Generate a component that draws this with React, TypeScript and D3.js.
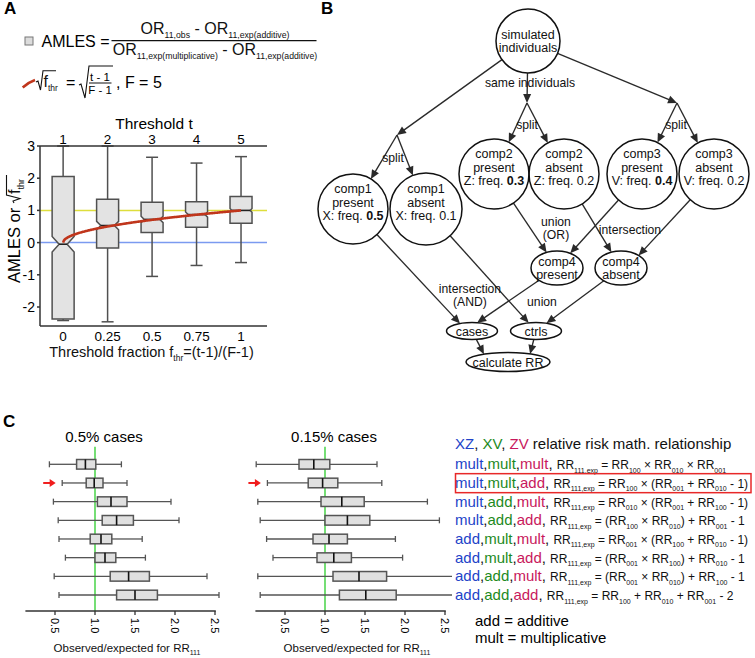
import React from 'react';
import * as d3 from 'd3';

const W = 755;
const H = 658;
const FONT = "'Liberation Sans', Arial, Helvetica, sans-serif";

// ---------- panel A data
const thresholds = [1, 2, 3, 4, 5];
const thresholdFractions = [0, 0.25, 0.5, 0.75, 1];
const amlesWhiskerLow = [-2.42, -2.46, -1.05, -0.71, -0.62];
const amlesQ1 = [-2.37, -0.17, 0.31, 0.48, 0.6];
const amlesMedian = [-0.05, 0.53, 0.72, 0.87, 1.0];
const amlesQ3 = [2.05, 1.35, 1.25, 1.27, 1.43];
const amlesWhiskerHigh = [3.0, 3.0, 2.65, 2.47, 2.67];
const amlesNotch = [0.24, 0.13, 0.1, 0.08, 0.06];
const amlesTicks = [-2, -1, 0, 1, 2, 3];
const fractionLabels = ['0', '0.25', '0.5', '0.75', '1'];

// ---------- panel C data
const relationships = [
  ['mult', 'mult', 'mult'],
  ['mult', 'mult', 'add'],
  ['mult', 'add', 'mult'],
  ['mult', 'add', 'add'],
  ['add', 'mult', 'mult'],
  ['add', 'mult', 'add'],
  ['add', 'add', 'mult'],
  ['add', 'add', 'add'],
];
const formulas = [
  'RR_{111,exp} = RR_{100} × RR_{010} × RR_{001}',
  'RR_{111,exp} = RR_{100} × (RR_{001} + RR_{010} - 1)',
  'RR_{111,exp} = RR_{010} × (RR_{001} + RR_{100} - 1)',
  'RR_{111,exp} = (RR_{100} × RR_{010}) + RR_{001} - 1',
  'RR_{111,exp} = RR_{001} × (RR_{100} + RR_{010} - 1)',
  'RR_{111,exp} = (RR_{001} × RR_{100}) + RR_{010} - 1',
  'RR_{111,exp} = (RR_{001} × RR_{010}) + RR_{100} - 1',
  'RR_{111,exp} = RR_{100} + RR_{010} + RR_{001} - 2',
];
const highlightedRow = 1;

const rr05Low = [0.43, 0.59, 0.48, 0.54, 0.55, 0.63, 0.49, 0.55];
const rr05Q1 = [0.77, 0.89, 1.03, 1.09, 0.94, 1.0, 1.19, 1.27];
const rr05Median = [0.88, 0.99, 1.2, 1.27, 1.075, 1.125, 1.42, 1.5];
const rr05Q3 = [1.01, 1.1, 1.4, 1.48, 1.21, 1.26, 1.68, 1.78];
const rr05High = [1.33, 1.4, 1.95, 2.05, 1.59, 1.63, 2.4, 2.55];

const rr015Low = [0.14, 0.28, 0.16, 0.19, 0.27, 0.35, 0.16, 0.19];
const rr015Q1 = [0.675, 0.79, 0.95, 1.0, 0.85, 0.9, 1.1, 1.18];
const rr015Median = [0.86, 0.97, 1.21, 1.28, 1.05, 1.11, 1.425, 1.51];
const rr015Q3 = [1.06, 1.16, 1.49, 1.56, 1.28, 1.33, 1.77, 1.89];
const rr015High = [1.65, 1.71, 2.28, 2.43, 1.88, 1.97, 2.7, 2.7];

const rrTicks = [0.5, 1.0, 1.5, 2.0, 2.5];

// ---------- panel B (flow diagram) text
const flowText: Record<string, string[]> = {
  root: ['simulated', 'individuals'],
  c1p: ['comp1', 'present', 'X: freq. **0.5**'],
  c1a: ['comp1', 'absent', 'X: freq. 0.1'],
  c2p: ['comp2', 'present', 'Z: freq. **0.3**'],
  c2a: ['comp2', 'absent', 'Z: freq. 0.2'],
  c3p: ['comp3', 'present', 'V: freq. **0.4**'],
  c3a: ['comp3', 'absent', 'V: freq. 0.2'],
  c4p: ['comp4', 'present'],
  c4a: ['comp4', 'absent'],
  cases: ['cases'],
  ctrls: ['ctrls'],
  rr: ['calculate RR'],
};
const flowEdges: [string, string][] = [
  ['root', 'splitL'], ['root', 'splitM'], ['root', 'splitR'],
  ['splitL', 'c1p'], ['splitL', 'c1a'],
  ['splitM', 'c2p'], ['splitM', 'c2a'],
  ['splitR', 'c3p'], ['splitR', 'c3a'],
  ['c2p', 'c4p'], ['c3p', 'c4p'], ['c2a', 'c4a'], ['c3a', 'c4a'],
  ['c1p', 'cases'], ['c4p', 'cases'], ['c1a', 'ctrls'], ['c4a', 'ctrls'],
  ['cases', 'rr'], ['ctrls', 'rr'],
];
const flowEdgeLabels = [
  { at: [530, 82], lines: ['same individuals'] },
  { at: [393, 157], lines: ['split'] },
  { at: [527, 124], lines: ['split'] },
  { at: [676, 124], lines: ['split'] },
  { at: [556, 228], lines: ['union', '(OR)'] },
  { at: [630, 229], lines: ['intersection'] },
  { at: [470, 295], lines: ['intersection', '(AND)'] },
  { at: [542, 301], lines: ['union'] },
];

// layout of the diagram
type FNode = { id: string; kind: 'circle' | 'ellipse' | 'point'; x: number; y: number; rx: number; ry: number; textDy: number };
const flowLayout: FNode[] = [
  { id: 'root', kind: 'circle', x: 528, y: 41, rx: 32, ry: 32, textDy: 0 },
  { id: 'splitL', kind: 'point', x: 397, y: 135, rx: 0, ry: 0, textDy: 0 },
  { id: 'splitM', kind: 'point', x: 527, y: 103, rx: 0, ry: 0, textDy: 0 },
  { id: 'splitR', kind: 'point', x: 677, y: 103, rx: 0, ry: 0, textDy: 0 },
  { id: 'c2p', kind: 'circle', x: 494, y: 174, rx: 35, ry: 35, textDy: -7 },
  { id: 'c2a', kind: 'circle', x: 564, y: 174, rx: 35, ry: 35, textDy: -7 },
  { id: 'c3p', kind: 'circle', x: 642, y: 174, rx: 35, ry: 35, textDy: -7 },
  { id: 'c3a', kind: 'circle', x: 714, y: 174, rx: 35, ry: 35, textDy: -7 },
  { id: 'c1p', kind: 'circle', x: 353, y: 209, rx: 35, ry: 35, textDy: -7 },
  { id: 'c1a', kind: 'circle', x: 426, y: 209, rx: 36, ry: 36, textDy: -7 },
  { id: 'c4p', kind: 'ellipse', x: 557, y: 268, rx: 26, ry: 17, textDy: 0 },
  { id: 'c4a', kind: 'ellipse', x: 621, y: 268, rx: 26, ry: 17, textDy: 0 },
  { id: 'cases', kind: 'ellipse', x: 472, y: 331, rx: 25.5, ry: 8.5, textDy: 0 },
  { id: 'ctrls', kind: 'ellipse', x: 536, y: 331, rx: 25.5, ry: 8.5, textDy: 0 },
  { id: 'rr', kind: 'ellipse', x: 508, y: 362, rx: 42, ry: 9.5, textDy: 0 },
];
const edgeAim: Record<string, [number, number]> = {
  'cases>rr': [-20, 0],
  'ctrls>rr': [20, 0],
  'c1p>cases': [-5, 0],
  'c4p>cases': [-7, 0],
  'c3a>c4a': [6, 0],
};

// ---------- helpers
type Seg = { t: string; sub?: boolean; bold?: boolean; fill?: string; size?: number };

function parseRich(s: string, extra: Partial<Seg> = {}): Seg[] {
  return s
    .split(/(_\{[^}]*\}|\*\*[^*]*\*\*)/)
    .filter((p) => p.length)
    .map((p) => {
      if (p.startsWith('_{')) return { ...extra, t: p.slice(2, -1), sub: true };
      if (p.startsWith('**')) return { ...extra, t: p.slice(2, -2), bold: true };
      return { ...extra, t: p };
    });
}

function Rich(props: {
  x: number; y: number; segs: Seg[]; size: number; subSize: number; subShift: number;
  anchor?: string; fill?: string; transform?: string;
}) {
  const { x, y, segs, size, subSize, subShift, anchor = 'start', fill = '#111', transform } = props;
  let cur = 0;
  return (
    <text x={x} y={y} fontSize={size} textAnchor={anchor} fill={fill} transform={transform} style={{ whiteSpace: 'pre' }}>
      {segs.map((s, i) => {
        const target = s.sub ? subShift : 0;
        const dy = target - cur;
        cur = target;
        return (
          <tspan
            key={i}
            dy={dy !== 0 ? dy : undefined}
            fontSize={s.sub ? subSize : s.size}
            fontWeight={s.bold ? 'bold' : undefined}
            fill={s.fill}
          >
            {s.t}
          </tspan>
        );
      })}
    </text>
  );
}

function insideNode(n: FNode, p: number[]) {
  if (n.kind === 'point') return false;
  const dx = (p[0] - n.x) / n.rx;
  const dy = (p[1] - n.y) / n.ry;
  return dx * dx + dy * dy < 1;
}

function edgeGeom(a: FNode, b: FNode, aim: [number, number]) {
  const p0 = [a.x, a.y];
  const p1 = [b.x + aim[0], b.y + aim[1]];
  const at = (t: number) => [p0[0] + (p1[0] - p0[0]) * t, p0[1] + (p1[1] - p0[1]) * t];
  let t0 = 0;
  if (a.kind !== 'point') {
    let lo = 0, hi = 1;
    for (let k = 0; k < 40; k++) {
      const m = (lo + hi) / 2;
      if (insideNode(a, at(m))) lo = m; else hi = m;
    }
    t0 = hi;
  }
  let t1 = 1;
  if (b.kind !== 'point') {
    let lo = 0, hi = 1;
    for (let k = 0; k < 40; k++) {
      const m = (lo + hi) / 2;
      if (insideNode(b, at(m))) hi = m; else lo = m;
    }
    t1 = lo;
  }
  return [at(t0), at(t1)];
}

function Arrow({ s, e, color = '#2a2a2a', len = 9, half = 4, width = 1.35 }: { s: number[]; e: number[]; color?: string; len?: number; half?: number; width?: number }) {
  const dx = e[0] - s[0], dy = e[1] - s[1];
  const d = Math.hypot(dx, dy);
  const ux = dx / d, uy = dy / d;
  const bx = e[0] - ux * len, by = e[1] - uy * len;
  const pts = [
    [e[0], e[1]],
    [bx - uy * half, by + ux * half],
    [bx + uy * half, by - ux * half],
  ];
  return (
    <g>
      <line x1={s[0]} y1={s[1]} x2={bx + ux} y2={by + uy} stroke={color} strokeWidth={width} />
      <polygon points={pts.map((p) => p.join(',')).join(' ')} fill={color} />
    </g>
  );
}

// ---------- panel A
function PanelA() {
  const xA = d3.scaleLinear().domain([-0.13, 1.146]).range([40, 267]);
  const yA = d3.scaleLinear().domain([-2.59, 3]).range([326, 146]);
  const boxHalf = 11;
  const capHalf = 6;
  const [x0, x1] = xA.range();
  const [yBot, yTop] = yA.range();

  const notchPath = (i: number) => {
    const cx = xA(thresholdFractions[i]);
    const top = yA(amlesQ3[i]);
    const bot = yA(amlesQ1[i]);
    const m = yA(amlesMedian[i]);
    const nHi = yA(amlesMedian[i] + amlesNotch[i]);
    const nLo = yA(amlesMedian[i] - amlesNotch[i]);
    const nw = boxHalf - Math.min(7, (nLo - nHi) / 2);
    const w = boxHalf;
    return `M${cx - w},${top}H${cx + w}V${nHi}L${cx + nw},${m}L${cx + w},${nLo}V${bot}H${cx - w}V${nLo}L${cx - nw},${m}L${cx - w},${nHi}Z`;
  };

  // analytic curve sqrt(f_thr) shown in the legend
  const curve = d3.line()(d3.range(0, 1.0001, 0.004).map((f) => [xA(f), yA(Math.sqrt(f))] as [number, number]));
  const red = '#c0361c';

  return (
    <g>
      <text x={4} y={14} fontSize={17} fontWeight="bold">A</text>

      {/* legend */}
      <rect x={25} y={37} width={8} height={8} fill="#dcdcdc" stroke="#777" strokeWidth={1} />
      <text x={41.5} y={46.5} fontSize={16}>AMLES =</text>
      <Rich x={215} y={33.5} anchor="middle" size={16} subSize={8.7} subShift={4}
        segs={parseRich('OR_{11,obs} - OR_{11,exp(additive)}')} />
      <line x1={111.5} x2={316.5} y1={40.7} y2={40.7} stroke="#111" strokeWidth={1.2} />
      <Rich x={215} y={55} anchor="middle" size={16} subSize={8.7} subShift={4}
        segs={parseRich('OR_{11,exp(multiplicative)} - OR_{11,exp(additive)}')} />

      <path d="M22.7,87.5 Q28,82.5 35,80" fill="none" stroke={red} strokeWidth={2.5} />
      <path d="M36,82 L38,81 L40.5,90 L43,70.7 L56,70.7" fill="none" stroke="#111" strokeWidth={1.1} />
      <Rich x={43.5} y={87} size={16} subSize={8.5} subShift={3.5} segs={parseRich('f_{thr}')} />
      <text x={66} y={87.5} fontSize={16}>=</text>
      <path d="M79,85 L81,84 L85,98 L89,66 L113,66" fill="none" stroke="#111" strokeWidth={1.1} />
      <text x={100} y={80.5} fontSize={11.5} textAnchor="middle" style={{ whiteSpace: 'pre' }}>t - 1</text>
      <line x1={89} x2={111.5} y1={83} y2={83} stroke="#111" strokeWidth={1} />
      <text x={100} y={94} fontSize={11.5} textAnchor="middle" style={{ whiteSpace: 'pre' }}>F - 1</text>
      <text x={116} y={87.5} fontSize={16} style={{ whiteSpace: 'pre' }}>, F = 5</text>

      {/* reference lines */}
      <line x1={x0} x2={x1} y1={yA(1)} y2={yA(1)} stroke="#dede3c" strokeWidth={1.5} />
      <line x1={x0} x2={x1} y1={yA(0)} y2={yA(0)} stroke="#7b9af0" strokeWidth={1.5} />

      {/* boxes */}
      {thresholdFractions.map((f, i) => {
        const cx = xA(f);
        return (
          <g key={i} stroke="#505050" strokeWidth={1.5}>
            <line x1={cx} x2={cx} y1={yA(amlesWhiskerHigh[i])} y2={yA(amlesQ3[i])} />
            <line x1={cx} x2={cx} y1={yA(amlesQ1[i])} y2={yA(amlesWhiskerLow[i])} />
            <line x1={cx - capHalf} x2={cx + capHalf} y1={yA(amlesWhiskerHigh[i])} y2={yA(amlesWhiskerHigh[i])} />
            <line x1={cx - capHalf} x2={cx + capHalf} y1={yA(amlesWhiskerLow[i])} y2={yA(amlesWhiskerLow[i])} />
            <path d={notchPath(i)} fill="#e3e3e3" />
          </g>
        );
      })}
      {thresholdFractions.map((f, i) => {
        const cx = xA(f);
        const nHi = yA(amlesMedian[i] + amlesNotch[i]);
        const nLo = yA(amlesMedian[i] - amlesNotch[i]);
        const nw = boxHalf - Math.min(7, (nLo - nHi) / 2);
        return <line key={i} x1={cx - nw} x2={cx + nw} y1={yA(amlesMedian[i])} y2={yA(amlesMedian[i])} stroke="#222" strokeWidth={1.6} />;
      })}

      <path d={curve || ''} fill="none" stroke={red} strokeWidth={2.6} />

      {/* axes */}
      <g stroke="#333" strokeWidth={1.5} fill="none">
        <line x1={x0} x2={x0} y1={yTop} y2={yBot} />
        <line x1={x0} x2={x1} y1={yTop} y2={yTop} />
        <line x1={x0} x2={x1} y1={yBot} y2={yBot} />
        {amlesTicks.map((t) => (
          <line key={t} x1={x0 - 3} x2={x0} y1={yA(t)} y2={yA(t)} />
        ))}
      </g>
      {amlesTicks.map((t) => (
        <text key={t} x={35} y={yA(t) + 5} fontSize={14} textAnchor="end">{t}</text>
      ))}
      {thresholds.map((t, i) => (
        <text key={t} x={xA(thresholdFractions[i])} y={143.5} fontSize={13.5} textAnchor="middle">{t}</text>
      ))}
      <text x={154} y={128.5} fontSize={15.5} textAnchor="middle">Threshold t</text>
      {fractionLabels.map((l, i) => (
        <text key={l} x={xA(thresholdFractions[i])} y={340.5} fontSize={13.5} textAnchor="middle">{l}</text>
      ))}
      <Rich x={151.5} y={356.5} anchor="middle" size={14.5} subSize={8.5} subShift={4}
        segs={parseRich('Threshold fraction f_{thr}=(t-1)/(F-1)')} />

      {/* y label */}
      <g transform="translate(20,283) rotate(-90)">
        <text x={0} y={0} fontSize={16.5} style={{ whiteSpace: 'pre' }}>AMLES or </text>
        <path d="M80,-6 L82,-7 L84.5,0 L88,-13.5 L108,-13.5" fill="none" stroke="#111" strokeWidth={1.1} />
        <Rich x={89} y={0} size={16.5} subSize={9} subShift={3.5} segs={parseRich('f_{thr}')} />
      </g>
    </g>
  );
}

// ---------- panel B
function PanelB() {
  const byId = new Map(flowLayout.map((n) => [n.id, n]));
  const fs = 12.5;
  const lh = 13.4;
  return (
    <g>
      <text x={321} y={14} fontSize={17} fontWeight="bold">B</text>
      {flowEdges.map(([a, b]) => {
        const [s, e] = edgeGeom(byId.get(a)!, byId.get(b)!, edgeAim[`${a}>${b}`] || [0, 0]);
        return <Arrow key={`${a}>${b}`} s={s} e={e} />;
      })}
      {flowLayout.filter((n) => n.kind !== 'point').map((n) => (
        <ellipse key={n.id} cx={n.x} cy={n.y} rx={n.rx} ry={n.ry} fill="none" stroke="#111" strokeWidth={1.5} />
      ))}
      {flowLayout.filter((n) => n.kind !== 'point').map((n) => {
        const lines = flowText[n.id];
        const c = n.y + n.textDy;
        return lines.map((l, k) => (
          <Rich key={n.id + k} x={n.x} y={c + (k - (lines.length - 1) / 2) * lh + 4.5} anchor="middle"
            size={fs} subSize={fs} subShift={0} segs={parseRich(l)} />
        ));
      })}
      {flowEdgeLabels.map((lab, j) =>
        lab.lines.map((l, k) => (
          <text key={`${j}-${k}`} x={lab.at[0]} y={lab.at[1] + (k - (lab.lines.length - 1) / 2) * 13 + 4.5}
            fontSize={12.2} textAnchor="middle" fill="#111">{l}</text>
        ))
      )}
    </g>
  );
}

// ---------- panel C
const rrDomain = [0.13, 2.51];
const yRow = d3.scalePoint<number>().domain(d3.range(8)).range([464.3, 595]);

function RRChart(props: { x0: number; title: string; lo: number[]; q1: number[]; med: number[]; q3: number[]; hi: number[]; clipId: string }) {
  const { x0, title, lo, q1, med, q3, hi, clipId } = props;
  const x = d3.scaleLinear().domain(rrDomain).range([x0 + 25.4, x0 + 215.8]);
  const axisY = 611;
  const bh = 4.8;
  const capH = 3;
  const [ax0, ax1] = x.range();
  const clipRight = x0 + 222;
  const stroke = '#555';
  return (
    <g>
      <defs>
        <clipPath id={clipId}>
          <rect x={x0} y={440} width={clipRight - x0} height={180} />
        </clipPath>
      </defs>
      <text x={x0 + 104} y={442} fontSize={15} textAnchor="middle">{title}</text>
      <line x1={x(1)} x2={x(1)} y1={446.7} y2={axisY} stroke="#2ccc2c" strokeWidth={1.3} />
      <g clipPath={`url(#${clipId})`}>
        {lo.map((_, i) => {
          const cy = yRow(i)!;
          return (
            <g key={i} stroke={stroke} strokeWidth={1.3}>
              <line x1={x(lo[i])} x2={x(q1[i])} y1={cy} y2={cy} />
              <line x1={x(q3[i])} x2={x(hi[i])} y1={cy} y2={cy} />
              <line x1={x(lo[i])} x2={x(lo[i])} y1={cy - capH} y2={cy + capH} />
              <line x1={x(hi[i])} x2={x(hi[i])} y1={cy - capH} y2={cy + capH} />
              <rect x={x(q1[i])} y={cy - bh} width={x(q3[i]) - x(q1[i])} height={bh * 2} fill="#e0e0e0" strokeWidth={1.5} />
              <line x1={x(med[i])} x2={x(med[i])} y1={cy - bh} y2={cy + bh} stroke="#111" strokeWidth={1.6} />
            </g>
          );
        })}
      </g>
      <Arrow s={[x(lo[highlightedRow]) - 19, yRow(highlightedRow)!]} e={[x(lo[highlightedRow]) - 6.5, yRow(highlightedRow)!]}
        color="#f01c1c" width={2} len={6} half={4} />
      <line x1={ax0} x2={ax1} y1={axisY} y2={axisY} stroke="#333" strokeWidth={1.3} />
      {rrTicks.map((t) => (
        <g key={t}>
          <line x1={x(t)} x2={x(t)} y1={axisY} y2={axisY + 4} stroke="#333" strokeWidth={1.3} />
          <text x={x(t)} y={618} fontSize={11} dominantBaseline="central" transform={`rotate(90,${x(t)},618)`}>
            {d3.format('.1f')(t)}
          </text>
        </g>
      ))}
      <Rich x={x0 + 127} y={652} anchor="middle" size={11.5} subSize={7} subShift={3} segs={parseRich('Observed/expected for RR_{111}')} />
    </g>
  );
}

const relColors = ['#2243c8', '#1d8a1d', '#c8185c'];

function PanelCLegend() {
  return (
    <g>
      <Rich x={455} y={448.5} size={15} subSize={15} subShift={0}
        segs={[
          { t: 'XZ', fill: relColors[0] }, { t: ', ' }, { t: 'XV', fill: relColors[1] }, { t: ', ' },
          { t: 'ZV', fill: relColors[2] }, { t: ' relative risk math. relationship' },
        ]} />
      {relationships.map((r, i) => {
        const segs: Seg[] = [];
        r.forEach((w, k) => {
          segs.push({ t: w, fill: relColors[k] });
          segs.push({ t: k < 2 ? ',' : ', ' });
        });
        segs.push(...parseRich(formulas[i], { size: 12 }));
        return (
          <Rich key={i} x={455} y={yRow(i)! + 5} size={15} subSize={7} subShift={3.5} segs={segs} />
        );
      })}
      <rect x={455.5} y={yRow(highlightedRow)! - 9.3} width={295.5} height={19} fill="none" stroke="#e82828" strokeWidth={1.5} />
      <text x={475} y={625.5} fontSize={15}>add = additive</text>
      <text x={475} y={643} fontSize={15}>mult = multiplicative</text>
    </g>
  );
}

export default function App() {
  return (
    <svg width={W} height={H} viewBox={`0 0 ${W} ${H}`}
      style={{ position: 'absolute', left: 0, top: 0, fontFamily: FONT }}>
      <rect width={W} height={H} fill="#fff" />
      <PanelA />
      <PanelB />
      <text x={3} y={427} fontSize={17} fontWeight="bold">C</text>
      <RRChart x0={0} title="0.5% cases" lo={rr05Low} q1={rr05Q1} med={rr05Median} q3={rr05Q3} hi={rr05High} clipId="clipC1" />
      <RRChart x0={230} title="0.15% cases" lo={rr015Low} q1={rr015Q1} med={rr015Median} q3={rr015Q3} hi={rr015High} clipId="clipC2" />
      <PanelCLegend />
    </svg>
  );
}
